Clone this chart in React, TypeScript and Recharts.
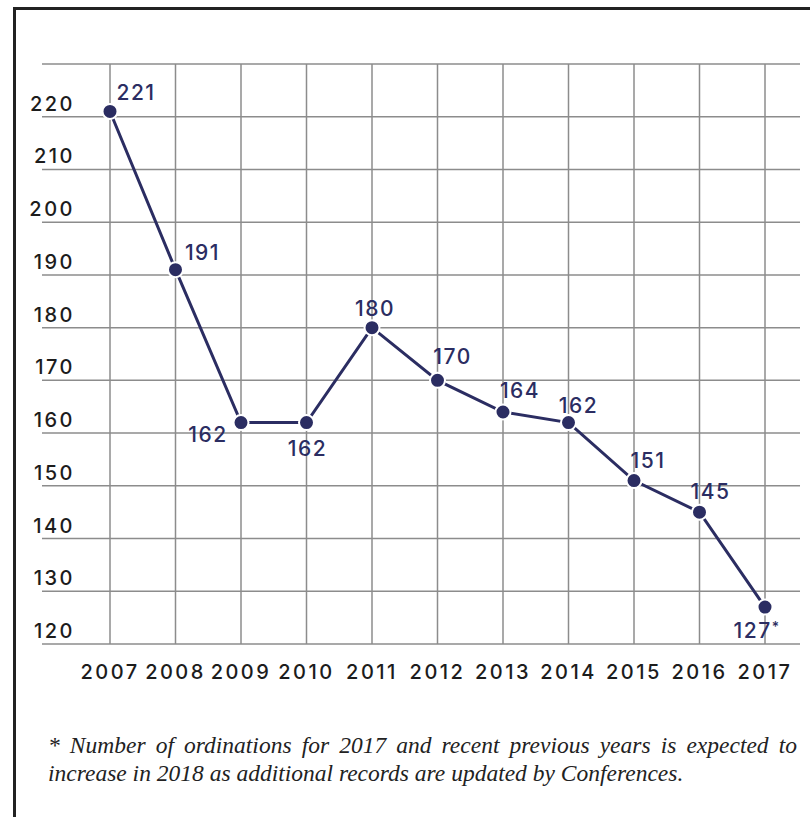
import React from "react";
import { LineChart, Line, XAxis, YAxis, CartesianGrid, ReferenceLine } from "recharts";

// Ordinations per year
const years = ["2007", "2008", "2009", "2010", "2011", "2012", "2013", "2014", "2015", "2016", "2017"];
const ordinations = [221, 191, 162, 162, 180, 170, 164, 162, 151, 145, 127];
const yTicks = [120, 130, 140, 150, 160, 170, 180, 190, 200, 210, 220, 230];
// 2017 figure is provisional (see footnote)
const provisional = [false, false, false, false, false, false, false, false, false, false, true];

// where each value label sits relative to its dot: [dx, dy of baseline]
const labelPlacement: [number, number][] = [
  [26, -11],
  [27, -10],
  [-33, 19],
  [1, 33],
  [3, -12],
  [15, -16],
  [17, -14],
  [10, -10],
  [14, -13],
  [11, -13],
  [-8, 31],
];

const NAVY = "#2b2d62";
const INK = "#1c1c1c";
const GRID = "#8c8c8c";
const NUM_FONT = "Inter, 'DejaVu Sans', sans-serif";

const data = years.map((year, i) => ({ year, value: ordinations[i] }));

function YTick(props: any) {
  const { y, payload } = props;
  if (payload.value === 230) return null;
  return (
    <text
      x={75}
      y={y - 6}
      textAnchor="end"
      fill={INK}
      fontFamily={NUM_FONT}
      fontWeight={500}
      fontSize={20}
      letterSpacing={2.5}
    >
      {payload.value}
    </text>
  );
}

function XTick(props: any) {
  const { x, y, payload } = props;
  return (
    <text
      x={x}
      y={y + 27}
      textAnchor="middle"
      fill={INK}
      fontFamily={NUM_FONT}
      fontWeight={500}
      fontSize={20}
      letterSpacing={2.5}
    >
      {payload.value}
    </text>
  );
}

function ValueLabel(props: any) {
  const { x, y, value, index } = props;
  const [dx, dy] = labelPlacement[index] || [0, -12];
  return (
    <text
      x={x + dx}
      y={y + dy}
      textAnchor="middle"
      fill={NAVY}
      fontFamily={NUM_FONT}
      fontWeight={500}
      fontSize={21}
      letterSpacing={1.5}
    >
      {value}
      {provisional[index] && (
        <tspan fontSize={14} dy={-6} dx={0}>
          *
        </tspan>
      )}
    </text>
  );
}

export default function App() {
  return (
    <div style={{ position: "absolute", left: 0, top: 0, width: 810, height: 817, background: "#fff", overflow: "hidden" }}>
      <div
        style={{
          position: "absolute",
          left: 13,
          top: 7,
          width: 820,
          height: 830,
          borderTop: "3px solid #222",
          borderLeft: "3px solid #222",
        }}
      />
      <div style={{ position: "absolute", left: 0, top: 0 }}>
        <LineChart width={810} height={700} data={data} margin={{ top: 64, right: 10, left: 0, bottom: 0 }}>
          <CartesianGrid stroke={GRID} strokeWidth={1.5} vertical={false} />
          {years.map((yr) => (
            <ReferenceLine key={yr} x={yr} stroke={GRID} strokeWidth={1.5} />
          ))}
          <XAxis
            dataKey="year"
            padding={{ left: 68, right: 35 }}
            axisLine={false}
            tickLine={false}
            height={56}
            tick={<XTick />}
            interval={0}
          />
          <YAxis
            domain={[120, 230]}
            ticks={yTicks}
            width={42}
            axisLine={false}
            tickLine={false}
            tick={<YTick />}
            interval={0}
          />
          <Line
            dataKey="value"
            stroke={NAVY}
            strokeWidth={3}
            dot={{ r: 7.5, fill: NAVY, stroke: "#fff", strokeWidth: 2 }}
            label={<ValueLabel />}
            isAnimationActive={false}
          />
        </LineChart>
      </div>
      <div
        style={{
          position: "absolute",
          left: 48,
          top: 731,
          width: 749,
          fontFamily: "'Liberation Serif', 'DejaVu Serif', serif",
          fontStyle: "italic",
          fontSize: 23.5,
          lineHeight: "28px",
          color: "#222",
        }}
      >
        <div style={{ textAlign: "justify", textAlignLast: "justify" }}>
          * Number of ordinations for 2017 and recent previous years is expected to
        </div>
        <div>increase in 2018 as additional records are updated by Conferences.</div>
      </div>
    </div>
  );
}
